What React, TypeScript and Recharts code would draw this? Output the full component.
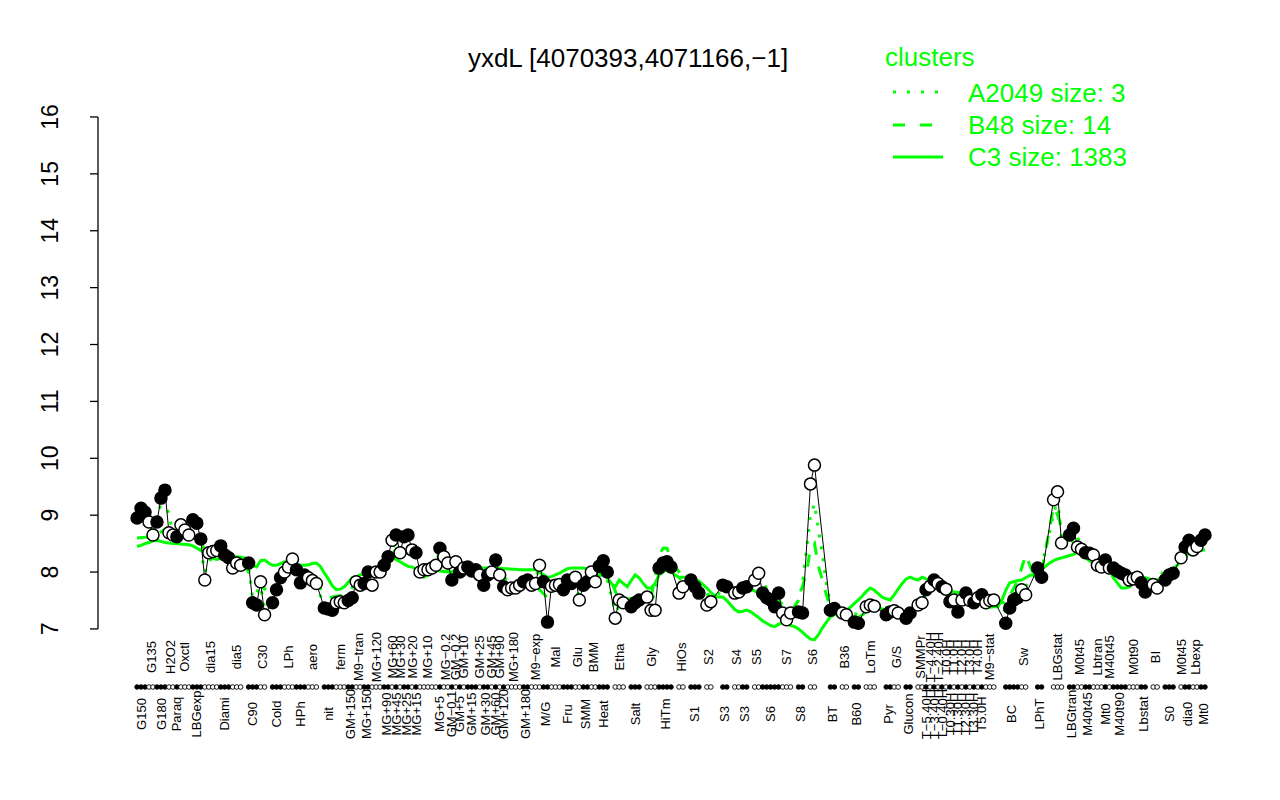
import React from 'react'
import { ComposedChart, Line, XAxis, YAxis, ReferenceLine } from 'recharts'

const _ = null

// expression per condition, in plot order (null = condition missing for this gene)
const values: (number | null)[] = [
  8.95, 9.12, 9.05, 8.88, 8.65, 8.88, 9.3, 9.44, 8.69, 8.65,
  8.62, 8.83, 8.74, 8.65, 8.92, 8.86, 8.58, 7.86, 8.34, 8.36,
  8.38, 8.46, 8.3, 8.25, 8.07, 8.16, 8.12, _, 8.16, 7.46,
  7.42, 7.83, 7.25, _, 7.46, 7.69, 7.9, 8.0, 8.09, 8.23,
  8.04, 7.81, 7.95, 7.9, 7.85, 7.8, _, 7.37, 7.35, 7.33,
  7.46, 7.48, 7.46, 7.5, 7.55, 7.83, 7.77, 7.8, 8.0, 7.77,
  8.0, 8.0, 8.12, 8.27, 8.56, 8.65, 8.34, 8.62, 8.65, 8.39,
  8.34, 8.0, 8.04, 8.04, 8.07, 8.12, 8.42, 8.27, 8.16, 7.86,
  8.18, 8.0, 8.07, 8.09, 8.02, 8.04, 7.95, 7.77, 7.95, 8.0,
  8.21, 7.95, 7.74, 7.69, 7.72, 7.72, 7.77, 7.83, 7.86, 7.77,
  7.8, 8.12, 7.83, 7.12, 7.75, 7.77, 7.78, 7.69, 7.86, 7.8,
  7.91, 7.51, 7.77, 7.83, 8.0, 7.83, 8.1, 8.2, 8.0, _,
  7.19, 7.51, 7.46, _, 7.39, 7.46, 7.51, _, 7.56, 7.33,
  7.33, 8.07, 8.16, 8.18, 8.09, _, 7.63, 7.74, _, 7.86,
  7.74, 7.63, _, 7.42, 7.48, _, _, 7.77, 7.74, _,
  7.63, 7.65, 7.72, 7.74, _, 7.86, 7.98, 7.63, 7.55, 7.51,
  7.39, 7.63, 7.28, 7.16, 7.28, _, 7.3, 7.28, _, 9.55,
  9.88, _, _, _, 7.33, 7.36, _, 7.28, 7.25, _,
  7.12, 7.1, _, 7.39, 7.42, 7.4, _, _, 7.25, 7.3,
  7.32, 7.28, _, 7.19, 7.28, _, 7.42, 7.46, 7.69, 7.75,
  7.86, 7.8, 7.74, 7.7, 7.48, 7.51, 7.3, 7.51, 7.63, 7.5,
  7.46, 7.55, 7.6, 7.46, 7.5, 7.51, _, _, 7.1, 7.37,
  7.51, 7.55, 7.69, 7.6, _, _, 8.07, 7.91, _, _,
  9.27, 9.41, 8.51, _, 8.65, 8.77, 8.44, 8.4, 8.34, 8.33,
  8.3, 8.12, 8.09, 8.21, 8.07, 8.07, 8.02, 7.98, 7.95, 7.86,
  7.88, 7.91, 7.81, 7.65, _, 7.78, 7.72, _, 7.86, 7.95,
  7.98, _, 8.25, 8.44, 8.56, 8.39, 8.45, 8.56, 8.65,
]

// cluster C3 (solid)
const c3: number[] = [
  8.45, 8.47, 8.5, 8.52, 8.55, 8.56, 8.54, 8.52, 8.51, 8.5,
  8.5, 8.49, 8.49, 8.48, 8.46, 8.42, 8.38, 8.32, 8.28, 8.24,
  8.22, 8.24, 8.26, 8.27, 8.27, 8.27, 8.26, 8.25, 8.2, 8.12,
  8.09, 8.2, 8.21, 8.16, 8.12, 8.12, 8.15, 8.18, 8.18, 8.16,
  8.14, 8.12, 8.12, 8.13, 8.15, 8.16, 8.1, 7.98, 7.88, 7.76,
  7.69, 7.7, 7.74, 7.82, 7.9, 7.92, 7.95, 7.97, 8.0, 8.03,
  8.04, 8.1, 8.16, 8.22, 8.27, 8.22, 8.18, 8.14, 8.1, 8.09,
  8.05, 7.98, 7.91, 7.95, 8.04, 8.03, 8.02, 8.01, 8.0, 8.0,
  8.03, 8.06, 8.08, 8.09, 8.09, 8.08, 8.08, 8.07, 8.07, 8.07,
  8.07, 8.07, 8.06, 8.06, 8.05, 8.05, 8.04, 8.04, 8.04, 8.04,
  8.04, 8.0, 7.95, 7.91, 7.92, 7.95, 7.98, 8.02, 8.06, 8.07,
  8.07, 8.07, 8.07, 8.05, 8.0, 7.95, 7.96, 7.98, 7.9, 7.8,
  7.74, 7.86, 7.8, 7.74, 7.85, 7.95, 7.9, 7.8, 7.72, 7.72,
  7.8, 7.95, 8.0, 8.04, 8.0, 7.95, 7.91, 7.91, 7.91, 7.9,
  7.87, 7.84, 7.78, 7.72, 7.64, 7.58, 7.56, 7.56, 7.5, 7.42,
  7.34, 7.3, 7.31, 7.33, 7.3, 7.25, 7.2, 7.14, 7.1, 7.06,
  7.04, 7.08, 7.12, 7.1, 7.06, 7.04, 7.0, 6.94, 6.88, 6.82,
  6.81, 6.9, 7.02, 7.12, 7.21, 7.25, 7.28, 7.31, 7.33, 7.38,
  7.45, 7.51, 7.58, 7.66, 7.72, 7.68, 7.62, 7.56, 7.53, 7.51,
  7.6, 7.7, 7.8, 7.88, 7.91, 7.88, 7.86, 7.91, 7.88, 7.86,
  7.8, 7.76, 7.74, 7.7, 7.66, 7.65, 7.64, 7.63, 7.6, 7.57,
  7.55, 7.5, 7.4, 7.37, 7.38, 7.39, 7.39, 7.5, 7.68, 7.81,
  7.83, 7.85, 7.86, 7.9, 7.94, 7.96, 7.98, 8.05, 8.1, 8.16,
  8.2, 8.23, 8.25, 8.27, 8.29, 8.31, 8.35, 8.3, 8.25, 8.2,
  8.16, 8.12, 8.09, 8.06, 8.04, 7.9, 7.81, 7.72, 7.72, 7.74,
  7.8, 7.86, 7.91, 7.9, 7.88, 7.86, 7.86, 7.9, 7.95, 7.98,
  8.05, 8.12, 8.2, 8.28, 8.34, 8.36, 8.37, 8.38, 8.39,
]

// cluster B48 (dashed), read where visible
const b48: (number | null)[] = [
  8.6, _, _, _, 8.62, _, _, 8.75, _, _,
  _, 8.65, _, _, _, 8.6, _, _, 8.3, _,
  _, _, 8.3, _, _, _, 8.2, _, _, 7.9,
  _, _, 7.7, _, _, 7.85, _, _, _, 8.1,
  _, _, _, 7.95, _, _, _, _, 7.55, _,
  _, _, 7.6, _, _, _, 7.85, _, _, _,
  7.95, _, _, _, _, 8.4, _, _, _, 8.3,
  _, _, _, _, 8.05, _, _, _, _, 8.0,
  _, _, _, _, 8.05, _, _, _, _, 7.95,
  _, _, _, _, 7.85, _, _, _, 7.9, _,
  _, _, _, 7.55, _, _, _, 7.8, _, _,
  _, 7.75, _, _, _, 7.9, _, _, 8.0, _,
  _, 7.5, _, _, _, 7.55, _, _, _, 7.55,
  _, 8.3, 8.42, 8.42, 8.2, _, _, _, 7.8, _,
  _, 7.75, _, _, 7.55, _, _, _, 7.7, _,
  _, 7.65, _, _, 7.7, _, _, 7.6, _, _,
  _, 7.5, _, _, 7.3, _, 7.5, _, 8.0, 8.4,
  8.5, 8.1, _, 7.6, 7.35, _, _, _, 7.3, _,
  _, 7.2, _, _, _, 7.4, _, _, _, 7.3,
  _, 7.32, _, _, 7.3, _, _, 7.5, _, _,
  7.9, _, 7.75, _, _, 7.55, _, _, _, 7.55,
  _, _, 7.55, _, _, 7.5, _, _, 7.45, _,
  _, 7.85, _, 8.3, _, 7.95, _, 8.0, _, _,
  9.15, 9.0, _, 8.6, _, _, 8.5, _, _, 8.35,
  _, _, 8.2, _, _, 8.1, _, _, 7.95, _,
  _, 7.9, _, 7.75, _, _, 8.0, _, _, 7.95,
  _, _, 8.2, _, _, 8.4, _, _, 8.55,
]

// cluster A2049 (dotted), read where visible
const a2049: (number | null)[] = [
  8.9, _, 9.0, _, 8.75, _, 9.2, 9.3, _, 8.7,
  _, 8.75, _, 8.7, _, 8.8, _, 8.0, _, 8.3,
  _, _, 8.3, _, _, 8.15, _, _, 8.1, 7.55,
  _, 7.75, 7.35, _, 7.5, _, 7.85, _, 8.05, _,
  _, 7.9, _, _, 7.85, _, _, 7.45, _, 7.4,
  _, 7.5, _, _, 7.6, _, 7.8, _, 7.95, _,
  7.95, _, _, 8.2, _, 8.55, _, _, 8.55, _,
  _, 8.1, _, _, 8.05, _, 8.35, _, _, 7.9,
  _, _, 8.05, _, _, 8.05, _, 7.85, _, _,
  8.15, _, _, 7.75, _, _, 7.8, _, _, 7.8,
  _, 8.05, _, 7.6, _, 7.8, _, _, 7.8, _,
  _, 7.6, _, 7.8, _, 7.9, _, 8.15, _, _,
  7.3, _, 7.5, _, _, 7.5, _, _, _, 7.4,
  _, _, 8.3, _, 8.15, _, _, 7.8, _, _,
  7.8, _, _, _, 7.55, _, _, _, 7.7, _,
  _, 7.7, _, 7.75, _, _, 7.95, _, _, 7.6,
  _, _, _, 7.3, _, _, 7.5, 7.8, 8.4, 9.0,
  9.2, 8.75, 8.3, 7.8, 7.45, _, _, _, 7.3, _,
  _, 7.25, _, _, 7.45, _, _, _, _, 7.35,
  _, 7.35, _, _, 7.3, _, _, 7.5, _, _,
  7.8, _, _, _, 7.55, _, _, _, 7.6, _,
  _, _, 7.6, _, _, 7.55, _, _, 7.3, _,
  7.55, _, _, 7.75, _, _, 8.0, 8.1, _, _,
  9.0, 9.3, 8.6, _, _, 8.7, _, _, 8.4, _,
  _, 8.2, _, _, 8.1, _, _, 8.0, _, _,
  7.9, _, _, 7.75, _, _, 7.8, _, _, 7.95,
  _, _, 8.2, _, 8.5, _, _, 8.55, _,
]

const groupLabels = [
  'G150', 'G135', 'G180', 'H2O2', 'Paraq', 'Oxctl', 'LBGexp', 'dia15', 'Diami', 'dia5',
  'C90', 'C30', 'Cold', 'LPh', 'HPh', 'aero', 'nit', 'ferm', 'GM+150', 'M9\u2212tran',
  'MG+150', 'MG+120', 'MG+90', 'MG+60', 'MG+45', 'MG+30', 'MG+25', 'MG+20', 'MG+15', 'MG+10',
  'MG+5', 'MG\u22120.2', 'GM\u22120.1', 'GM\u22120.2', 'GM+5', 'GM+10', 'GM+15', 'GM+25', 'GM+30', 'GM+45',
  'GM+60', 'GM+90', 'GM+120', 'MG+180', 'GM+180', 'M9\u2212exp', 'M/G', 'Mal', 'Fru', 'Glu',
  'SMM', 'BMM', 'Heat', 'Etha', 'Salt', 'Gly', 'HiTm', 'HiOs', 'S1', 'S2',
  'S3', 'S4', 'S3', 'S5', 'S6', 'S7', 'S8', 'S6', 'BT', 'B36',
  'B60', 'LoTm', 'Pyr', 'G/S', 'Glucon', 'SMMPr', 'T\u22125.40H', 'T\u22124.40H', 'T\u22123.40H', 'T\u22122.40H',
  'T\u22120.40H', 'T0.0H', 'T0.30H', 'T1.0H', 'T1.30H', 'T2.0H', 'T2.30H', 'T3.0H', 'T3.30H', 'T4.0H',
  'T5.0H', 'M9\u2212stat', 'BC', 'Sw', 'LPhT', 'LBGstat', 'LBGtran', 'M0t45', 'M40t45', 'Lbtran',
  'Mt0', 'M40t45', 'M40t90', 'M0t90', 'Lbstat', 'BI', 'S0', 'M0t45', 'dia0', 'Lbexp',
  'Mt0',
]

// first condition index of each group
const groupStarts = [
  1, 4, 6, 9, 11, 12, 15, 18, 22, 25,
  29, 32, 35, 38, 41, 44, 48, 51, 54, 56,
  58, 60, 63, 65, 66, 67, 68, 70, 71, 72,
  77, 78, 80, 81, 82, 83, 84, 87, 88, 90,
  91, 92, 93, 94, 98, 100, 103, 105, 108, 111,
  113, 115, 117, 121, 125, 129, 132, 137, 140, 144,
  148, 151, 153, 156, 158, 163, 167, 170, 175, 178,
  181, 184, 189, 191, 194, 197, 199, 200, 201, 202,
  203, 204, 205, 206, 207, 208, 209, 210, 211, 212,
  213, 214, 219, 223, 227, 231, 235, 237, 239, 241,
  244, 245, 246, 250, 253, 256, 259, 263, 264, 266,
  268,
]

const yTicks = [7, 8, 9, 10, 11, 12, 13, 14, 15, 16]

const GREEN = '#00ff00'
const FONT = '"Liberation Sans", Arial, Helvetica, sans-serif'
const X_DOMAIN: [number, number] = [-8.8, 279.04]

function groupOf(i: number) {
  let g = 0
  for (let k = 0; k < groupStarts.length; k++) if (groupStarts[k] <= i) g = k
  return g
}

const rows = values.map((v, k) => ({
  i: k + 1,
  v,
  c3: c3[k],
  b48: b48[k],
  a2049: a2049[k],
  g: groupOf(k + 1),
}))

const dotTicks = rows.filter((r) => r.v !== null).map((r) => r.i)

const labelTicks = groupLabels.map((_lab, g) => {
  const m = rows.filter((r) => r.g === g && r.v !== null).map((r) => r.i)
  return m.reduce((a, b) => a + b, 0) / m.length
})

function DotTick(props: any) {
  const { x, payload } = props
  const g = groupOf(payload.value)
  return (
    <circle cx={x} cy={687} r={2.3} fill={g % 2 === 0 ? '#000' : '#fff'} stroke="#000" strokeWidth={0.9} />
  )
}

// labels alternate above / below the row of condition dots
function LabelTick(props: any) {
  const { x, payload } = props
  const g = labelTicks.indexOf(payload.value)
  if (g < 0) return <g />
  const y = g % 2 === 1 ? 657 : 714
  return (
    <text
      x={x}
      y={y}
      dy="0.35em"
      transform={`rotate(-90 ${x} ${y})`}
      textAnchor="middle"
      fontSize={13}
      fontFamily={FONT}
      fill="#000"
    >
      {groupLabels[g]}
    </text>
  )
}

function YTick(props: any) {
  const { y, payload } = props
  return (
    <g>
      <line x1={90} x2={98} y1={y} y2={y} stroke="#000" strokeWidth={1.3} />
      <text
        x={58}
        y={y}
        transform={`rotate(-90 58 ${y})`}
        textAnchor="middle"
        fontSize={23}
        fontFamily={FONT}
        fill="#000"
      >
        {payload.value}
      </text>
    </g>
  )
}

function PointDot(props: any) {
  const { cx, cy, payload, index } = props
  if (payload.v == null || cy == null) return <g key={`p${index}`} />
  return (
    <circle
      key={`p${index}`}
      cx={cx}
      cy={cy}
      r={6}
      fill={payload.g % 2 === 0 ? '#000' : '#fff'}
      stroke="#000"
      strokeWidth={1.5}
    />
  )
}

export default function App() {
  return (
    <div style={{ position: 'absolute', left: 0, top: 0, width: 1280, height: 800, background: '#fff' }}>
      <ComposedChart
        width={1280}
        height={800}
        data={rows}
        margin={{ top: 105.6, right: 35, bottom: 48.3, left: 18 }}
      >
        <XAxis
          xAxisId="pts"
          dataKey="i"
          type="number"
          domain={X_DOMAIN}
          ticks={dotTicks}
          interval={0}
          tick={(p: any) => <DotTick {...p} />}
          axisLine={false}
          tickLine={false}
          height={40}
          allowDataOverflow
        />
        <XAxis
          xAxisId="lab"
          dataKey="i"
          type="number"
          domain={X_DOMAIN}
          ticks={labelTicks}
          interval={0}
          tick={(p: any) => <LabelTick {...p} />}
          axisLine={false}
          tickLine={false}
          height={60}
          allowDataOverflow
        />
        <YAxis
          type="number"
          domain={[6.6, 16.2]}
          ticks={yTicks}
          interval={0}
          tick={(p: any) => <YTick {...p} />}
          axisLine={false}
          tickLine={false}
          width={80}
          allowDataOverflow
        />
        <ReferenceLine
          xAxisId="pts"
          segment={[{ x: X_DOMAIN[0], y: 7 }, { x: X_DOMAIN[0], y: 16 }]}
          stroke="#000"
          strokeWidth={1.3}
          ifOverflow="visible"
        />

        <Line xAxisId="pts" dataKey="c3" stroke={GREEN} strokeWidth={3} dot={false} isAnimationActive={false} connectNulls />
        <Line xAxisId="pts" dataKey="b48" stroke={GREEN} strokeWidth={3} strokeDasharray="12 12" dot={false} isAnimationActive={false} connectNulls />
        <Line xAxisId="pts" dataKey="a2049" stroke={GREEN} strokeWidth={3} strokeDasharray="3 9" dot={false} isAnimationActive={false} connectNulls />
        <Line
          xAxisId="pts"
          dataKey="v"
          stroke="#000"
          strokeWidth={1}
          dot={(p: any) => <PointDot {...p} />}
          activeDot={false}
          isAnimationActive={false}
          connectNulls
        />
      </ComposedChart>

      <svg
        width={1280}
        height={800}
        style={{ position: 'absolute', left: 0, top: 0, pointerEvents: 'none' }}
        fontFamily={FONT}
      >
        <text x={628} y={67} textAnchor="middle" fontSize={26} fill="#000">
          yxdL [4070393,4071166,{'\u2212'}1]
        </text>
        <text x={885} y={66} fontSize={26} fill={GREEN}>clusters</text>
        <line x1={893} x2={943} y1={92} y2={92} stroke={GREEN} strokeWidth={3} strokeDasharray="3 11" />
        <text x={968} y={102} fontSize={26} fill={GREEN}>A2049 size: 3</text>
        <line x1={893} x2={943} y1={125} y2={125} stroke={GREEN} strokeWidth={3} strokeDasharray="12 15" />
        <text x={968} y={134} fontSize={26} fill={GREEN}>B48 size: 14</text>
        <line x1={893} x2={943} y1={157} y2={157} stroke={GREEN} strokeWidth={3} />
        <text x={968} y={166} fontSize={26} fill={GREEN}>C3 size: 1383</text>
      </svg>
    </div>
  )
}
